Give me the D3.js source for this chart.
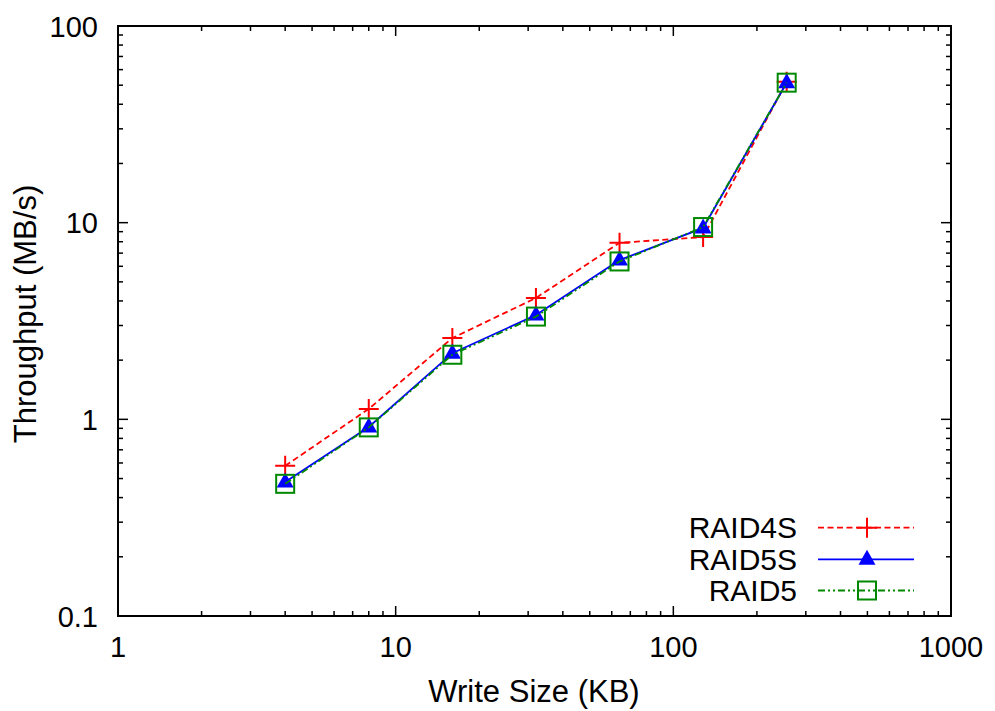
<!DOCTYPE html>
<html><head><meta charset="utf-8">
<script src="https://cdn.jsdelivr.net/npm/d3@7"></script>
<style>body{margin:0;background:#fff}svg{display:block}text{font-family:"Liberation Sans",Arial,sans-serif;fill:#000}</style>
</head><body><svg id="c" width="995" height="711"></svg>
<script>
const writeSizes = [4, 8, 16, 32, 64, 128, 256];
const raid4s = [0.58, 1.13, 2.59, 4.14, 7.9, 8.45, 52];
const raid5s = [0.48, 0.914, 2.17, 3.39, 6.45, 9.4, 51.5];
const raid5  = [0.47, 0.91, 2.13, 3.33, 6.35, 9.5, 51.5];
const seriesNames = ["RAID4S", "RAID5S", "RAID5"];
const xTicks = [1, 10, 100, 1000];
const yTicks = [0.1, 1, 10, 100];

const svg = d3.select("#c");
const L = 118, R = 951, T = 26, B = 616;
const x = d3.scaleLog().domain([1, 1000]).range([L, R]);
const y = d3.scaleLog().domain([0.1, 100]).range([B, T]);

const minorX = [], minorY = [];
for (let d = 1; d < 1000; d *= 10) for (let k = 2; k <= 9; k++) minorX.push(d * k);
for (let d = 0.1; d < 100; d *= 10) for (let k = 2; k <= 9; k++) minorY.push(+(d * k).toPrecision(3));

const g = svg.append("g").attr("stroke", "#000").attr("stroke-width", 1.5);
minorX.forEach(v => {
  g.append("line").attr("x1", x(v)).attr("x2", x(v)).attr("y1", B).attr("y2", B - 5);
  g.append("line").attr("x1", x(v)).attr("x2", x(v)).attr("y1", T).attr("y2", T + 5);
});
xTicks.forEach(v => {
  g.append("line").attr("x1", x(v)).attr("x2", x(v)).attr("y1", B).attr("y2", B - 10);
  g.append("line").attr("x1", x(v)).attr("x2", x(v)).attr("y1", T).attr("y2", T + 10);
});
minorY.forEach(v => {
  g.append("line").attr("y1", y(v)).attr("y2", y(v)).attr("x1", L).attr("x2", L + 5);
  g.append("line").attr("y1", y(v)).attr("y2", y(v)).attr("x1", R).attr("x2", R - 5);
});
yTicks.forEach(v => {
  g.append("line").attr("y1", y(v)).attr("y2", y(v)).attr("x1", L).attr("x2", L + 10);
  g.append("line").attr("y1", y(v)).attr("y2", y(v)).attr("x1", R).attr("x2", R - 10);
});
svg.append("rect").attr("x", L).attr("y", T).attr("width", R - L).attr("height", B - T)
  .attr("fill", "none").attr("stroke", "#000").attr("stroke-width", 2);

xTicks.forEach(v => svg.append("text").attr("x", x(v)).attr("y", 657).attr("text-anchor", "middle")
  .attr("font-size", 29).text(d3.format("~g")(v)));
yTicks.forEach(v => svg.append("text").attr("x", 98).attr("y", y(v) + 10.5).attr("text-anchor", "end")
  .attr("font-size", 29).text(v));

svg.append("text").attr("x", 534).attr("y", 702).attr("text-anchor", "middle").attr("font-size", 31).text("Write Size (KB)");
svg.append("text").attr("transform", "translate(36,314) rotate(-90)")
  .attr("text-anchor", "middle").attr("font-size", 31).text("Throughput (MB/s)");

const series = [
  {name: seriesNames[0], vals: raid4s, color: "#ff0000", dash: "6,3.5", marker: "plus"},
  {name: seriesNames[1], vals: raid5s, color: "#0000ff", dash: null, marker: "tri"},
  {name: seriesNames[2], vals: raid5,  color: "#008800", dash: "7,3,2,3,2,3", marker: "sq"}
];

function drawMarker(sel, type, cx, cy, color) {
  if (type === "plus") {
    sel.append("path").attr("d", `M${cx - 10},${cy}H${cx + 10}M${cx},${cy - 10}V${cy + 10}`)
      .attr("stroke", color).attr("stroke-width", 2).attr("fill", "none");
  } else if (type === "tri") {
    sel.append("path").attr("d", `M${cx},${cy - 9.5}L${cx + 8.5},${cy + 5.5}L${cx - 8.5},${cy + 5.5}Z`)
      .attr("fill", color);
  } else {
    sel.append("rect").attr("x", cx - 9).attr("y", cy - 9).attr("width", 18).attr("height", 18)
      .attr("fill", "none").attr("stroke", color).attr("stroke-width", 2);
  }
}

const line = d3.line().x((d, i) => x(writeSizes[i])).y(d => y(d));
const legendY = [527.7, 559.3, 590.5];
series.forEach((s, k) => {
  const p = svg.append("path").datum(s.vals).attr("d", line).attr("fill", "none")
    .attr("stroke", s.color).attr("stroke-width", 1.8);
  if (s.dash) p.attr("stroke-dasharray", s.dash);
  const mg = svg.append("g");
  s.vals.forEach((v, i) => drawMarker(mg, s.marker, x(writeSizes[i]), y(v), s.color));

  const ly = legendY[k];
  svg.append("text").attr("x", 797).attr("y", ly + 10.5).attr("text-anchor", "end").attr("font-size", 30).text(s.name);
  const lp = svg.append("line").attr("x1", 818).attr("x2", 914).attr("y1", ly).attr("y2", ly)
    .attr("stroke", s.color).attr("stroke-width", 1.8);
  if (s.dash) lp.attr("stroke-dasharray", s.dash);
  drawMarker(svg, s.marker, 867, ly, s.color);
});
</script></body></html>
